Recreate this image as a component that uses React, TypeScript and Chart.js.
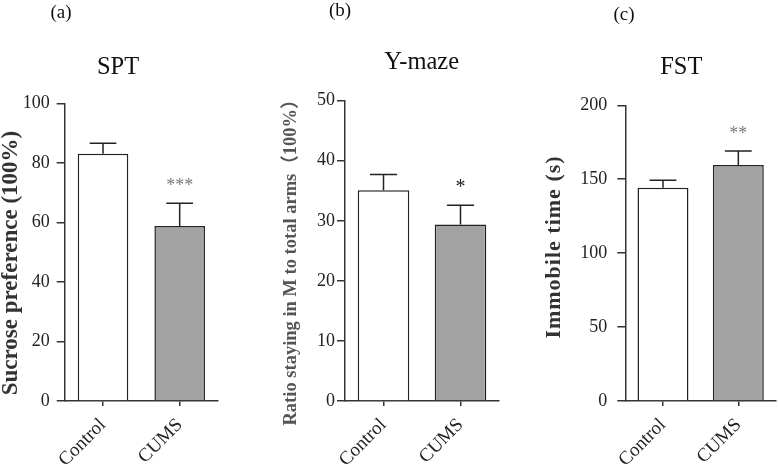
import React, { useEffect, useRef } from "react";
import { Chart, registerables } from "chart.js";

Chart.register(...registerables);

const categories = ["Control", "CUMS"];

const sptMeans = [83.2, 58.9];
const sptSem = [3.5, 7.6];
const sptStars = ["", "***"];
const sptTicks = [0, 20, 40, 60, 80, 100];

const ymazeMeans = [35.1, 29.4];
const ymazeSem = [2.6, 3.2];
const ymazeStars = ["", "*"];
const ymazeTicks = [0, 10, 20, 30, 40, 50];

const fstMeans = [144.3, 159.6];
const fstSem = [5.0, 9.5];
const fstStars = ["", "**"];
const fstTicks = [0, 50, 100, 150, 200];

const barFills = ["#ffffff", "#a3a3a3"];
const SERIF = "'Liberation Serif', 'Times New Roman', 'Noto Sans CJK SC', serif";

type Panel = {
  left: number;
  width: number;
  areaLeft: number;
  areaRight: number;
  areaTop: number;
  tickPad: number;
  letter: string;
  letterX: number;
  letterY: number;
  title: string;
  titleX: number;
  titleY: number;
  yTitle: string;
  yTitleX: number;
  yTitleY: number;
  yTitleFont: string;
  yTitleColor: string;
  yTitleSpacing: string;
  means: number[];
  sem: number[];
  stars: string[];
  starColor: string;
  starFont: string;
  ticks: number[];
  barPct: number;
};

const panels: Panel[] = [
  {
    left: 0, width: 260, areaLeft: 64.7, areaRight: 218, areaTop: 103.7, tickPad: 7,
    letter: "(a)", letterX: 61, letterY: 18,
    title: "SPT", titleX: 118, titleY: 74,
    yTitle: "Sucrose preference (100%)", yTitleX: 11, yTitleY: 263,
    yTitleFont: `bold 23px ${SERIF}`, yTitleColor: "#333", yTitleSpacing: "0px",
    means: sptMeans, sem: sptSem, stars: sptStars, starColor: "#777", starFont: `18px ${SERIF}`,
    ticks: sptTicks, barPct: 0.66,
  },
  {
    left: 260, width: 258, areaLeft: 85, areaRight: 239, areaTop: 100.7, tickPad: 2,
    letter: "(b)", letterX: 80, letterY: 16,
    title: "Y-maze", titleX: 161.7, titleY: 69,
    yTitle: "Ratio staying in M to total arms（100%）", yTitleX: 31.7, yTitleY: 258,
    yTitleFont: `bold 18.5px ${SERIF}`, yTitleColor: "#555", yTitleSpacing: "0px",
    means: ymazeMeans, sem: ymazeSem, stars: ymazeStars, starColor: "#222", starFont: `20px ${SERIF}`,
    ticks: ymazeTicks, barPct: 0.67,
  },
  {
    left: 518, width: 260, areaLeft: 107.3, areaRight: 258, areaTop: 105.3, tickPad: 10,
    letter: "(c)", letterX: 106, letterY: 20,
    title: "FST", titleX: 163.3, titleY: 74,
    yTitle: "Immobile time (s)", yTitleX: 36.7, yTitleY: 247,
    yTitleFont: `bold 22px ${SERIF}`, yTitleColor: "#333", yTitleSpacing: "1px",
    means: fstMeans, sem: fstSem, stars: fstStars, starColor: "#777", starFont: `18px ${SERIF}`,
    ticks: fstTicks, barPct: 0.676,
  },
];

const HEIGHT = 466;
const AREA_BOTTOM = 401;

function PanelChart({ p }: { p: Panel }) {
  const ref = useRef<HTMLCanvasElement | null>(null);
  useEffect(() => {
    if (!ref.current) return;
    const decor = {
      id: "decor",
      afterDatasetsDraw(chart: any) {
        const ctx = chart.ctx;
        const meta = chart.getDatasetMeta(0);
        const yScale = chart.scales.y;
        ctx.save();
        meta.data.forEach((bar: any, i: number) => {
          const top = yScale.getPixelForValue(p.means[i] + p.sem[i]);
          const barTop = bar.y;
          const half = bar.width * 0.263;
          ctx.strokeStyle = "#222";
          ctx.lineWidth = 1.5;
          ctx.beginPath();
          ctx.moveTo(bar.x, barTop);
          ctx.lineTo(bar.x, top);
          ctx.moveTo(bar.x - half, top);
          ctx.lineTo(bar.x + half, top);
          ctx.stroke();
          if (p.stars[i]) {
            ctx.fillStyle = p.starColor;
            ctx.font = p.starFont;
            ctx.textAlign = "center";
            ctx.textBaseline = "alphabetic";
            ctx.fillText(p.stars[i], bar.x, top - 12);
          }
        });
        ctx.restore();
      },
      afterDraw(chart: any) {
        const ctx = chart.ctx;
        ctx.save();
        ctx.fillStyle = "#111";
        ctx.textAlign = "center";
        ctx.textBaseline = "alphabetic";
        ctx.font = `19px ${SERIF}`;
        ctx.fillText(p.letter, p.letterX, p.letterY);
        ctx.font = `24.5px ${SERIF}`;
        ctx.fillText(p.title, p.titleX, p.titleY);
        ctx.translate(p.yTitleX, p.yTitleY);
        ctx.rotate(-Math.PI / 2);
        ctx.font = p.yTitleFont;
        (ctx as any).letterSpacing = p.yTitleSpacing;
        ctx.fillStyle = p.yTitleColor;
        ctx.textBaseline = "middle";
        ctx.fillText(p.yTitle, 0, 0);
        ctx.restore();
      },
    };
    const chart = new Chart(ref.current, {
      type: "bar",
      data: {
        labels: categories,
        datasets: [
          {
            data: p.means,
            backgroundColor: barFills,
            borderColor: "#222",
            borderWidth: 1.5,
            barPercentage: p.barPct,
            categoryPercentage: 1,
          },
        ],
      },
      options: {
        responsive: false,
        animation: false,
        events: [],
        layout: {
          padding: { left: 0, top: p.areaTop, right: p.width - p.areaRight, bottom: 0 },
        },
        plugins: { legend: { display: false }, tooltip: { enabled: false }, title: { display: false } },
        scales: {
          x: {
            type: "category",
            offset: true,
            grid: { display: true, drawOnChartArea: false, offset: false, tickLength: 5, color: "#333", lineWidth: 1.5 },
            border: { display: true, color: "#333", width: 1.5 },
            ticks: {
              color: "#222",
              font: { family: SERIF, size: 19 },
              minRotation: 45,
              maxRotation: 45,
              padding: 8,
            },
            afterFit: (s: any) => { s.height = HEIGHT - AREA_BOTTOM; },
          },
          y: {
            min: p.ticks[0],
            max: p.ticks[p.ticks.length - 1],
            afterBuildTicks: (s: any) => { s.ticks = p.ticks.map((v) => ({ value: v })); },
            grid: { display: true, drawOnChartArea: false, tickLength: 8, color: "#333", lineWidth: 1.5 },
            border: { display: true, color: "#333", width: 1.5 },
            ticks: {
              color: "#222",
              font: { family: SERIF, size: 18 },
              padding: p.tickPad,
            },
            afterFit: (s: any) => { s.width = p.areaLeft; },
          },
        },
      },
      plugins: [decor],
    } as any);
    return () => chart.destroy();
  }, [p]);
  return (
    <canvas
      ref={ref}
      width={p.width}
      height={HEIGHT}
      style={{ position: "absolute", left: p.left, top: 0, width: p.width, height: HEIGHT }}
    />
  );
}

export default function App() {
  return (
    <div style={{ position: "fixed", left: 0, top: 0, width: 778, height: HEIGHT, background: "#fff", overflow: "hidden" }}>
      {panels.map((p) => (
        <PanelChart key={p.letter} p={p} />
      ))}
    </div>
  );
}
